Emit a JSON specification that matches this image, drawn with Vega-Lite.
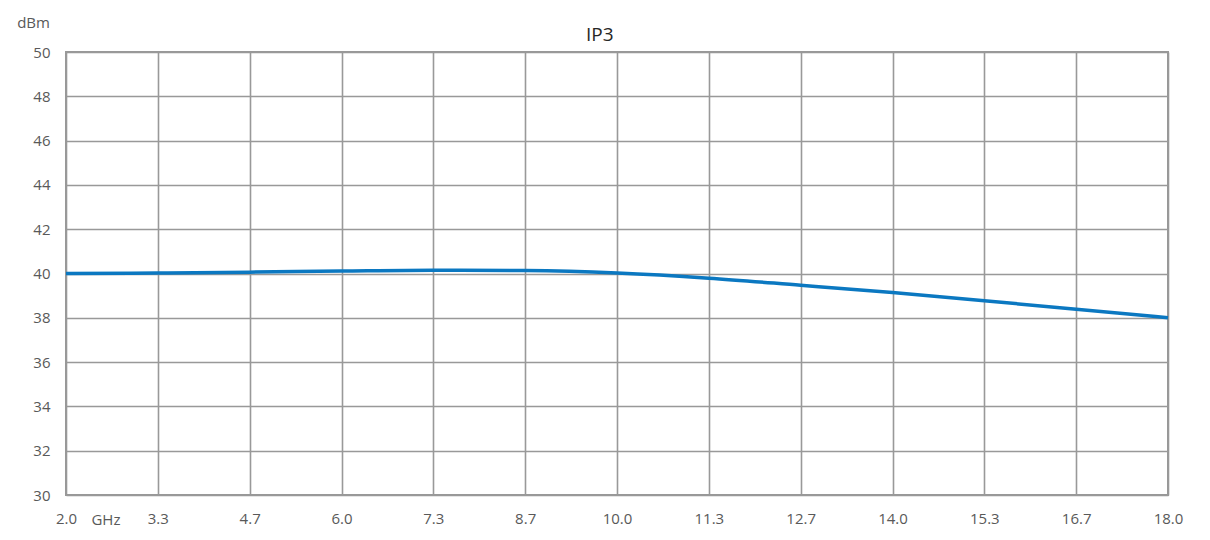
{
  "$schema": "https://vega.github.io/schema/vega-lite/v6.json",
  "autosize": {"type": "none"},
  "width": 1102,
  "height": 443,
  "padding": {"left": 66, "top": 52, "right": 42, "bottom": 45},
  "background": "white",
  "title": {"text": "IP3", "fontSize": 19, "font": "Open Sans", "fontWeight": "normal", "color": "#262626", "offset": -30, "frame": "bounds", "anchor": "middle"},
  "config": {
    "view": {"stroke": "#999999", "strokeWidth": 2},
    "axis": {"labelFont": "Open Sans", "labelFontSize": 15, "labelColor": "#595959", "gridColor": "#999999", "gridWidth": 1.6, "gridOpacity": 1, "domain": false, "ticks": false}
  },
  "data": {"values": [
    {"f": 2.0, "ip3": 40.0},
    {"f": 3.3333, "ip3": 40.02},
    {"f": 4.6667, "ip3": 40.06},
    {"f": 6.0, "ip3": 40.11},
    {"f": 7.3333, "ip3": 40.15},
    {"f": 8.6667, "ip3": 40.13},
    {"f": 10.0, "ip3": 40.02},
    {"f": 11.3333, "ip3": 39.79},
    {"f": 12.6667, "ip3": 39.47},
    {"f": 14.0, "ip3": 39.14},
    {"f": 15.3333, "ip3": 38.77},
    {"f": 16.6667, "ip3": 38.39},
    {"f": 18.0, "ip3": 38.0}
  ]},
  "layer": [
    {
      "mark": {"type": "line", "color": "#0b78c1", "strokeWidth": 3.5, "interpolate": "monotone"},
      "encoding": {
        "x": {"field": "f", "type": "quantitative", "scale": {"domain": [2, 18], "nice": false, "zero": false},
          "axis": {"title": null, "values": [2, 3.3333, 4.6667, 6, 7.3333, 8.6667, 10, 11.3333, 12.6667, 14, 15.3333, 16.6667, 18], "format": ".1f", "labelPadding": 16, "labelFlush": false}},
        "y": {"field": "ip3", "type": "quantitative", "scale": {"domain": [30, 50], "nice": false, "zero": false},
          "axis": {"values": [30, 32, 34, 36, 38, 40, 42, 44, 46, 48, 50], "labelPadding": 16, "title": "dBm", "titleAngle": 0, "titleX": -33, "titleY": -30, "titleAlign": "center", "titleBaseline": "middle", "titleFont": "Open Sans", "titleFontSize": 15, "titleFontWeight": "normal", "titleColor": "#595959"}}
      }
    },
    {
      "data": {"values": [{"f": 2.58, "v": 28.87, "t": "GHz"}]},
      "mark": {"type": "text", "font": "Open Sans", "fontSize": 15, "color": "#595959", "clip": false, "baseline": "middle"},
      "encoding": {
        "x": {"field": "f", "type": "quantitative"},
        "y": {"field": "v", "type": "quantitative"},
        "text": {"field": "t"}
      }
    }
  ]
}
